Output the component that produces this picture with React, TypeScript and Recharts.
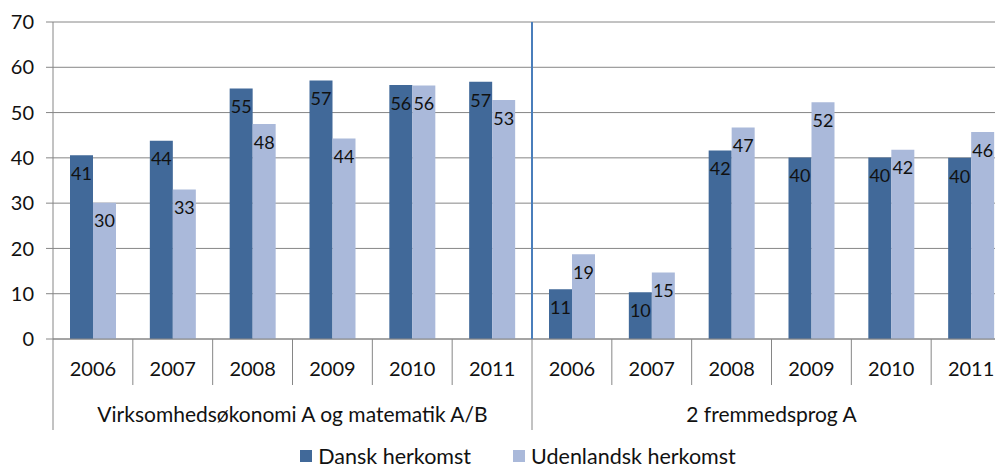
import { BarChart, Bar, XAxis, YAxis, CartesianGrid, Legend, LabelList } from 'recharts';

const years = ['2006', '2007', '2008', '2009', '2010', '2011', '2006', '2007', '2008', '2009', '2010', '2011'];
const groups = ['Virksomhedsøkonomi A og matematik A/B', '2 fremmedsprog A'];
const dansk = [40.6, 43.8, 55.3, 57.1, 56.1, 56.8, 11.0, 10.3, 41.6, 40.1, 40.1, 40.0];
const udenlandsk = [30.1, 33.0, 47.5, 44.3, 56.0, 52.8, 18.7, 14.7, 46.7, 52.3, 41.8, 45.7];
const yTicks = [0, 10, 20, 30, 40, 50, 60, 70];

const data = years.map((year, i) => ({
  key: `${i}`,
  year,
  dansk: dansk[i],
  udenlandsk: udenlandsk[i],
}));

const W = 1036;
const H = 469;
const MARGIN = { top: 22, right: 25, left: 0, bottom: 0 };
const Y_WIDTH = 53;
const BAND = (W - MARGIN.left - MARGIN.right - Y_WIDTH) / years.length;
const AXIS_GRAY = '#868686';
const DARK = '#416999';
const LIGHT = '#AAB9DA';

function YearTick(props: any) {
  const { x, y, index } = props;
  const half = BAND / 2;
  const groupEnd = index % 6 === 5;
  return (
    <g>
      <text x={x} y={y + 29} textAnchor="middle" dominantBaseline="central" fontSize={20} fill="#111">
        {years[index]}
      </text>
      {index === 0 && <line x1={x - half} x2={x - half} y1={y} y2={y + 91} stroke={AXIS_GRAY} />}
      <line x1={x + half} x2={x + half} y1={y} y2={y + (groupEnd ? 91 : 46)} stroke={AXIS_GRAY} />
      {index % 6 === 2 && (
        <text x={x + half} y={y + 74} textAnchor="middle" dominantBaseline="central" fontSize={21} fill="#111">
          {groups[Math.floor(index / 6)]}
        </text>
      )}
      {index === 5 && <line x1={x + half} x2={x + half} y1={MARGIN.top} y2={y} stroke="#4A7EBB" strokeWidth={2} />}
    </g>
  );
}

function LegendBox() {
  const items = [
    { name: 'Dansk herkomst', color: DARK },
    { name: 'Udenlandsk herkomst', color: LIGHT },
  ];
  return (
    <div style={{ display: 'flex', justifyContent: 'center', alignItems: 'flex-start', gap: 42, height: 30, paddingTop: 6, boxSizing: 'border-box' }}>
      {items.map((it) => (
        <div key={it.name} style={{ display: 'flex', alignItems: 'center', gap: 6, fontSize: 21.5, lineHeight: '22px', color: '#111' }}>
          <span style={{ width: 12, height: 12, background: it.color, display: 'inline-block' }} />
          {it.name}
        </div>
      ))}
    </div>
  );
}

export default function App() {
  return (
    <div style={{ position: 'absolute', left: 0, top: 0, width: 995, height: 469, overflow: 'hidden', background: '#fff', fontFamily: 'Lato, sans-serif' }}>
      <BarChart width={W} height={H} data={data} margin={MARGIN} barGap={0} barSize={23}>
        <CartesianGrid vertical={false} stroke={AXIS_GRAY} />
        <XAxis
          dataKey="key"
          interval={0}
          tickSize={0}
          tickMargin={0}
          height={100}
          axisLine={{ stroke: AXIS_GRAY }}
          tickLine={false}
          tick={<YearTick />}
        />
        <YAxis
          domain={[0, 70]}
          ticks={yTicks}
          width={Y_WIDTH}
          tickSize={7}
          tickMargin={12}
          axisLine={{ stroke: AXIS_GRAY }}
          tickLine={{ stroke: AXIS_GRAY }}
          tick={{ fontSize: 20, fill: '#111' }}
        />
        <Legend verticalAlign="bottom" height={30} content={<LegendBox />} wrapperStyle={{ left: 0, width: W }} />
        <Bar dataKey="dansk" name="Dansk herkomst" fill={DARK} isAnimationActive={false}>
          <LabelList dataKey="dansk" position="insideTop" offset={12} fontSize={18} fill="#111" formatter={(v: any) => Math.round(Number(v))} />
        </Bar>
        <Bar dataKey="udenlandsk" name="Udenlandsk herkomst" fill={LIGHT} isAnimationActive={false}>
          <LabelList dataKey="udenlandsk" position="insideTop" offset={12} fontSize={18} fill="#111" formatter={(v: any) => Math.round(Number(v))} />
        </Bar>
      </BarChart>
    </div>
  );
}
